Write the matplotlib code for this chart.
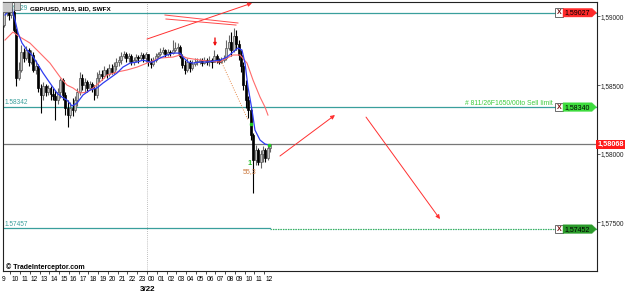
import numpy as np
import matplotlib
matplotlib.use("Agg")
import matplotlib.pyplot as plt
from matplotlib.patches import Rectangle, Polygon

plt.rcParams['font.family'] = ['Liberation Sans', 'DejaVu Sans']

# GBP/USD M15 bars, time in hours counted from 00:00 on 3/21
first_bar = 9.375
bar_step = 0.25
first_open = 1.58937
closes = [1.59032, 1.59046, 1.59010, 1.59032, 1.58901, 1.58551, 1.58610, 1.58740,
          1.58697, 1.58755, 1.58668, 1.58719, 1.58610, 1.58639, 1.58479, 1.58428,
          1.58493, 1.58449, 1.58479, 1.58435, 1.58420, 1.58391, 1.58449, 1.58537,
          1.58428, 1.58333, 1.58282, 1.58333, 1.58318, 1.58391, 1.58449, 1.58551,
          1.58500, 1.58522, 1.58479, 1.58508, 1.58479, 1.58428, 1.58551, 1.58580,
          1.58566, 1.58610, 1.58580, 1.58624, 1.58595, 1.58639, 1.58668, 1.58682,
          1.58711, 1.58726, 1.58697, 1.58711, 1.58668, 1.58682, 1.58704, 1.58697,
          1.58719, 1.58697, 1.58726, 1.58668, 1.58653, 1.58682, 1.58711, 1.58726,
          1.58740, 1.58755, 1.58726, 1.58740, 1.58733, 1.58755, 1.58770, 1.58777,
          1.58711, 1.58646, 1.58610, 1.58668, 1.58624, 1.58653, 1.58668, 1.58668,
          1.58682, 1.58660, 1.58682, 1.58668, 1.58682, 1.58668, 1.58711, 1.58682,
          1.58668, 1.58682, 1.58697, 1.58770, 1.58813, 1.58755, 1.58857, 1.58799,
          1.58719, 1.58639, 1.58500, 1.58391, 1.58318, 1.58136, 1.57954, 1.58027,
          1.57940, 1.57998, 1.58027, 1.57969, 1.58042, 1.58068]
highs = [1.59083, 1.59083, 1.59061, 1.59075, 1.59046, 1.58915, 1.58668, 1.58792,
         1.58770, 1.58784, 1.58770, 1.58755, 1.58740, 1.58682, 1.58653, 1.58508,
         1.58522, 1.58508, 1.58500, 1.58493, 1.58479, 1.58464, 1.58479, 1.58551,
         1.58551, 1.58449, 1.58391, 1.58377, 1.58406, 1.58420, 1.58479, 1.58595,
         1.58580, 1.58551, 1.58537, 1.58529, 1.58522, 1.58500, 1.58595, 1.58610,
         1.58610, 1.58639, 1.58624, 1.58653, 1.58653, 1.58668, 1.58697, 1.58711,
         1.58740, 1.58748, 1.58740, 1.58733, 1.58726, 1.58704, 1.58726, 1.58719,
         1.58740, 1.58733, 1.58740, 1.58726, 1.58697, 1.58704, 1.58733, 1.58740,
         1.58770, 1.58777, 1.58762, 1.58762, 1.58755, 1.58828, 1.58813, 1.58806,
         1.58792, 1.58726, 1.58682, 1.58697, 1.58682, 1.58682, 1.58697, 1.58697,
         1.58697, 1.58697, 1.58704, 1.58697, 1.58711, 1.58697, 1.58755, 1.58726,
         1.58697, 1.58704, 1.58719, 1.58828, 1.58864, 1.58886, 1.58915, 1.58901,
         1.58828, 1.58755, 1.58668, 1.58537, 1.58420, 1.58333, 1.58151, 1.58064,
         1.58042, 1.58027, 1.58056, 1.58042, 1.58064, 1.58071]
lows = [1.58922, 1.59003, 1.58973, 1.58988, 1.58886, 1.58493, 1.58537, 1.58595,
        1.58668, 1.58682, 1.58639, 1.58653, 1.58595, 1.58580, 1.58449, 1.58297,
        1.58391, 1.58420, 1.58428, 1.58391, 1.58391, 1.58246, 1.58362, 1.58406,
        1.58391, 1.58282, 1.58195, 1.58260, 1.58275, 1.58304, 1.58348, 1.58428,
        1.58464, 1.58449, 1.58449, 1.58464, 1.58449, 1.58391, 1.58406, 1.58522,
        1.58537, 1.58551, 1.58551, 1.58566, 1.58580, 1.58580, 1.58610, 1.58639,
        1.58653, 1.58697, 1.58668, 1.58668, 1.58646, 1.58646, 1.58668, 1.58660,
        1.58682, 1.58668, 1.58668, 1.58639, 1.58624, 1.58639, 1.58668, 1.58697,
        1.58711, 1.58726, 1.58704, 1.58711, 1.58711, 1.58726, 1.58740, 1.58726,
        1.58697, 1.58624, 1.58580, 1.58595, 1.58595, 1.58610, 1.58639, 1.58646,
        1.58653, 1.58639, 1.58653, 1.58646, 1.58639, 1.58624, 1.58668, 1.58660,
        1.58653, 1.58660, 1.58668, 1.58682, 1.58755, 1.58711, 1.58740, 1.58755,
        1.58682, 1.58595, 1.58464, 1.58333, 1.58260, 1.58100, 1.57714, 1.57918,
        1.57918, 1.57896, 1.57940, 1.57940, 1.57954, 1.58013]

# moving averages as drawn on the chart
fast_t = [9.47, 10.18, 10.49, 10.80, 11.21, 11.72, 12.23, 12.74, 13.36, 14.07, 14.79,
          15.30, 15.81, 16.32, 16.84, 17.45, 18.17, 18.88, 19.50, 20.21, 20.93, 21.54,
          22.26, 22.98, 23.59, 24.31, 24.61, 25.33, 26.05, 26.66, 27.38, 27.68, 28.20,
          28.71, 29.42, 30.14, 30.76, 31.47, 32.19, 32.80, 33.31, 33.72, 34.03, 34.34,
          34.75, 35.05, 35.57, 36.08, 36.49]
fast_v = [1.59010, 1.59061, 1.58973, 1.58879, 1.58806, 1.58755, 1.58719, 1.58660, 1.58588,
          1.58515, 1.58442, 1.58413, 1.58391, 1.58348, 1.58369, 1.58428, 1.58464, 1.58479,
          1.58515, 1.58551, 1.58588, 1.58631, 1.58660, 1.58668, 1.58682, 1.58668, 1.58668,
          1.58697, 1.58719, 1.58733, 1.58733, 1.58704, 1.58668, 1.58660, 1.58668, 1.58668,
          1.58675, 1.58682, 1.58704, 1.58740, 1.58770, 1.58755, 1.58660, 1.58486, 1.58318,
          1.58173, 1.58100, 1.58071, 1.58064]
slow_t = [9.47, 10.28, 11.00, 12.02, 13.05, 14.07, 15.10, 15.81, 16.43, 17.14, 17.86,
          18.47, 19.19, 19.91, 20.93, 21.95, 22.98, 24.00, 25.33, 26.66, 27.38, 28.09,
          28.71, 30.14, 31.47, 31.78, 32.80, 33.52, 34.24, 34.85, 35.57, 36.08, 36.38]
slow_v = [1.58828, 1.58886, 1.58850, 1.58806, 1.58733, 1.58660, 1.58559, 1.58500, 1.58479,
          1.58442, 1.58449, 1.58479, 1.58522, 1.58573, 1.58595, 1.58610, 1.58631, 1.58660,
          1.58697, 1.58704, 1.58719, 1.58697, 1.58690, 1.58675, 1.58668, 1.58682, 1.58719,
          1.58719, 1.58660, 1.58537, 1.58413, 1.58340, 1.58282]

# price levels
tp_left, tp_price = 1.59029, 1.59027
entry_left, entry_price = 1.58342, 1.58340
last_price = 1.58068
sl_left, sl_price = 1.57457, 1.57452
order_text = "# 811/26F1650/00to Sell limit"

# hand drawn arrows / lines: (t0, p0, t1, p1)
arrows = [(24.00, 1.58835, 34.75, 1.59097),
          (37.61, 1.57984, 43.24, 1.58282),
          (46.42, 1.58267, 53.99, 1.57525)]
plain_lines = [(25.84, 1.59010, 33.31, 1.58952),
               (25.94, 1.58981, 33.11, 1.58937)]
fib_line = (31.68, 1.58660, 34.34, 1.58246)
signal_t, signal_p = 30.96, 1.58813
pivot_t, pivot_p = 34.62, 1.58217
count_t, count_p, count_text = 34.47, 1.57933, "1"
ratio_t, ratio_p, ratio_text = 34.55, 1.57874, "55,3"

hour_ticks = list(range(9, 37))
hour_labels = ["%02d" % (h % 24) if h >= 24 else str(h) for h in hour_ticks]
day_t, day_label = 24, "3/22"
price_ticks = [1.575, 1.580, 1.585, 1.590]

teal = '#3a9f9c'
fig = plt.figure(figsize=(6.25, 2.94), dpi=100)
ax = fig.add_axes([2.5 / 625, 23 / 294, 594 / 625, 269.3 / 294])
ax.set_xlim(9.21, 70.01)
ax.set_ylim(1.57147, 1.59107)

# candles
opens = [first_open] + closes[:-1]
t = first_bar + bar_step * np.arange(len(closes))
for ti, o, h, l, c in zip(t, opens, highs, lows, closes):
    up = c >= o
    ax.vlines(ti, l, h, color='#666666' if up else 'black', lw=0.8, zorder=3)
    body = max(abs(c - o), 0.00005)
    ax.bar(ti, body, bottom=min(o, c), width=0.2,
           color='#c4c4c4' if up else 'black', edgecolor='#555555' if up else 'black',
           linewidth=0.5, zorder=4)

ax.plot(slow_t, slow_v, color='#ff6b6b', lw=0.8, zorder=5)
ax.plot(fast_t, fast_v, color='#2f3cf0', lw=0.9, zorder=6)
ax.plot(fast_t[-1], fast_v[-1], 's', color='#22cc22', ms=1.8, zorder=7)
ax.plot(pivot_t, pivot_p, 's', color='#22cc22', ms=1.5, zorder=7)

# levels
ax.axhline(tp_price, color=teal, lw=0.9, zorder=2)
ax.axhline(entry_price, color=teal, lw=0.9, zorder=2)
ax.axhline(last_price, color='#777777', lw=0.9, zorder=2)
ax.plot([9.21, t[-1]], [sl_left, sl_left], color=teal, lw=0.9, zorder=2)
ax.plot([t[-1], 70.01], [sl_price, sl_price], color=teal, lw=0.9, ls=(0, (1, 1)), zorder=2)
ax.plot([t[-1], 70.01], [sl_price, sl_price], color='#33bb44', lw=0.6, ls=(1, (1, 1)), zorder=2)
ax.axvline(day_t, color='#aaaaaa', lw=0.6, ls=(0, (1, 1.5)), zorder=1)

# drawings
for t0, p0, t1, p1 in arrows:
    ax.annotate('', xy=(t1, p1), xytext=(t0, p0),
                arrowprops=dict(arrowstyle='-|>', color='#ff3030', lw=0.7,
                                mutation_scale=6, shrinkA=0, shrinkB=0), zorder=8)
for t0, p0, t1, p1 in plain_lines:
    ax.plot([t0, t1], [p0, p1], color='#ff4a4a', lw=0.7, zorder=8)
ax.plot(fib_line[0::2], fib_line[1::2], color='#e58a4a', lw=0.7, ls=(0, (1, 1.5)), zorder=8)
ax.annotate('', xy=(signal_t, signal_p - 0.00030), xytext=(signal_t, signal_p + 0.00030),
            arrowprops=dict(arrowstyle='-|>', color='#ee1111', lw=1.0,
                            mutation_scale=4, shrinkA=0, shrinkB=0), zorder=8)
ax.text(count_t, count_p, count_text, color='#22bb22', fontsize=5.2, fontweight='bold',
        ha='center', va='center', zorder=9)
ax.text(ratio_t, ratio_p, ratio_text, color='#cc7a40', fontsize=5,
        ha='center', va='center', zorder=9)

# left level labels
yt = ax.get_yaxis_transform()
for p, lab in [(tp_left, "1.59029"), (entry_left, "1.58342"), (sl_left, "1.57457")]:
    ax.text(0.004, p + 0.00028, lab, color=teal, fontsize=4.7, transform=yt,
            ha='left', va='center', zorder=9)

ax.text((30 - 2.5) / 594, 0.973, "GBP/USD, M15, BID, SWFX", transform=ax.transAxes,
        fontsize=4.6, fontweight='bold', ha='left', va='center', zorder=10)
ax.text(0.006, 0.016, "\u00a9 TradeInterceptor.com", transform=ax.transAxes,
        fontsize=5, fontweight='bold', ha='left', va='center', zorder=10)
ax.text((465 - 2.5) / 594, entry_price + 0.00028, order_text, color='#3dcc3d',
        fontsize=4.9, transform=yt, ha='left', va='center', zorder=9)

# top-left icons
for x0, x1, y0, y1 in [(2, 12, 2, 12), (14, 20, 2, 10)]:
    ax.add_patch(Rectangle(((x0 - 2.5) / 594, (271 - y1) / 269.3), (x1 - x0) / 594,
                           (y1 - y0) / 269.3, transform=ax.transAxes, facecolor='#c8c8c8',
                           edgecolor='#555555', lw=0.5, zorder=11))

# order labels at the right
bh = 0.00062
for p, lab, col in [(tp_price, "1,59027", '#ff2a2a'), (entry_price, "1,58340", '#3ddc3d'),
                    (sl_price, "1,57452", '#2a9a2a')]:
    x0, x1, x2 = (555 - 2.5) / 594, (563 - 2.5) / 594, (592 - 2.5) / 594
    ax.add_patch(Rectangle((x0, p - bh / 2), x1 - x0, bh, transform=yt,
                           facecolor='white', edgecolor='#333333', lw=0.5, zorder=11))
    ax.text((x0 + x1) / 2, p, "X", transform=yt, color='#7a1010', fontsize=5,
            fontweight='bold', ha='center', va='center', zorder=12)
    ax.add_patch(Polygon([(x1, p - bh / 2), (x2, p - bh / 2), (1.0, p),
                          (x2, p + bh / 2), (x1, p + bh / 2)], closed=True, transform=yt,
                         facecolor=col, edgecolor=col, lw=0.3, zorder=11, clip_on=False))
    ax.text(x1 + 0.002, p, lab, transform=yt, color='black', fontsize=5,
            ha='left', va='center', zorder=12)

ax.text(1.0015, last_price, "1,58068", transform=yt, color='white', fontsize=5.2,
        fontweight='bold', ha='left', va='center', zorder=12, clip_on=False,
        bbox=dict(boxstyle='square,pad=0.15', facecolor='#ff1a1a', edgecolor='none'))

# axes styling
for s in ax.spines.values():
    s.set_color('#222222')
    s.set_linewidth(0.8)
ax.yaxis.tick_right()
ax.set_yticks(price_ticks)
ax.set_yticklabels([("%.5f" % v).replace('.', ',') for v in price_ticks])
ax.tick_params(axis='y', length=2, width=0.5, pad=1.2, labelsize=4.7, colors='#222222')
ax.set_xticks(hour_ticks[1:])
ax.set_xticklabels([])
ax.tick_params(axis='x', length=2, width=0.5)
xt = ax.get_xaxis_transform()
for h, lab in zip(hour_ticks, hour_labels):
    ax.text(h + 0.12, -0.03, lab, transform=xt, fontsize=4.8, ha='left', va='center',
            clip_on=False)
ax.text(day_t + 0.1, -0.067, day_label, transform=xt, fontsize=5.8, fontweight='bold',
        ha='center', va='center', clip_on=False)

fig.savefig("out.png", dpi=100)
